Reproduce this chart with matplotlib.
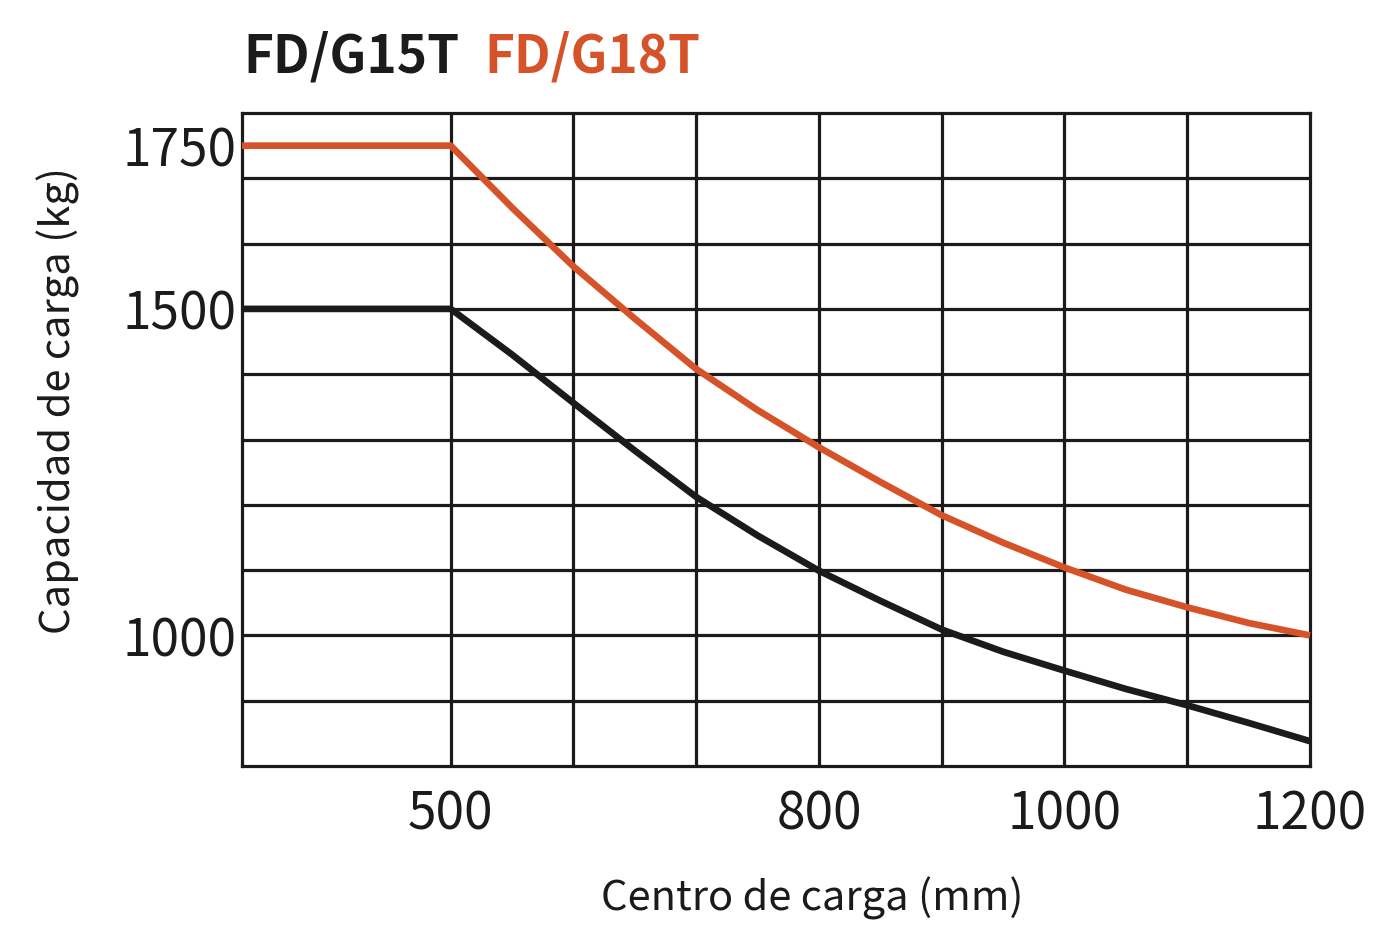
import matplotlib
matplotlib.use("Agg")
import matplotlib.pyplot as plt
from matplotlib.ticker import FixedLocator

plt.rcParams['font.family'] = ['Noto Sans CJK SC', 'DejaVu Sans']

# Data
load_center = [330, 500, 550, 600, 650, 700, 750, 800, 850, 900, 950, 1000, 1050, 1100, 1150, 1200]
cap_fdg15t = [1500, 1500, 1430, 1356, 1283, 1212, 1153, 1099, 1053, 1009, 975, 946, 918, 893, 866, 838]
cap_fdg18t = [1750, 1750, 1655, 1565, 1485, 1408, 1345, 1288, 1235, 1184, 1142, 1104, 1070, 1043, 1019, 1000]
x_tick_labels = [500, 800, 1000, 1200]
y_tick_labels = [1000, 1500, 1750]
series_names = ["FD/G15T", "FD/G18T"]

BLACK = "#1c1a1a"
ORANGE = "#d6532a"

fig = plt.figure(figsize=(13.77, 9.26), dpi=100)
ax = fig.add_axes([242/1377, 1-766/926, (1310-242)/1377, (766-113)/926])

ax.plot(load_center, cap_fdg18t, color=ORANGE, lw=4.8, solid_capstyle='butt',
        solid_joinstyle='round', zorder=5, clip_on=False)
ax.plot(load_center, cap_fdg15t, color=BLACK, lw=4.8, solid_capstyle='butt',
        solid_joinstyle='round', zorder=5, clip_on=False)

ax.set_xlim(330, 1200)
ax.set_ylim(800, 1800)

ax.set_xticks(x_tick_labels)
ax.set_xticklabels([str(v) for v in x_tick_labels])
ax.set_yticks(y_tick_labels)
ax.set_yticklabels([str(v) for v in y_tick_labels])

ax.xaxis.set_minor_locator(FixedLocator(list(range(500, 1200, 100))))
ax.yaxis.set_minor_locator(FixedLocator(list(range(900, 1800, 100))))
ax.xaxis.remove_overlapping_locs = False
ax.yaxis.remove_overlapping_locs = False
ax.grid(False, which='major')
ax.grid(True, which='minor', color=BLACK, lw=2.3)
ax.set_axisbelow(True)

ax.tick_params(axis='both', which='both', length=0)
ax.tick_params(axis='y', which='major', labelsize=37, pad=4, colors=BLACK)
ax.tick_params(axis='x', which='major', labelsize=37, pad=16, colors=BLACK)

for s in ax.spines.values():
    s.set_linewidth(2.3)
    s.set_color(BLACK)

ax.set_xlabel("Centro de carga (mm)", fontsize=30, color=BLACK)
ax.set_ylabel("Capacidad de carga (kg)", fontsize=30, color=BLACK)
ax.xaxis.set_label_coords((812-242)/1068, (766-898)/653)
ax.yaxis.set_label_coords((58-242)/1068, (766-400)/653)
ax.xaxis.label.set_va('center')
ax.yaxis.label.set_va('center')

fig.text(243/1377, 1-72/926, series_names[0], fontsize=37, fontweight='bold', color=BLACK, va='baseline', ha='left')
fig.text(484/1377, 1-72/926, series_names[1], fontsize=37, fontweight='bold', color=ORANGE, va='baseline', ha='left')

fig.savefig("out.png", dpi=100, facecolor='white')
